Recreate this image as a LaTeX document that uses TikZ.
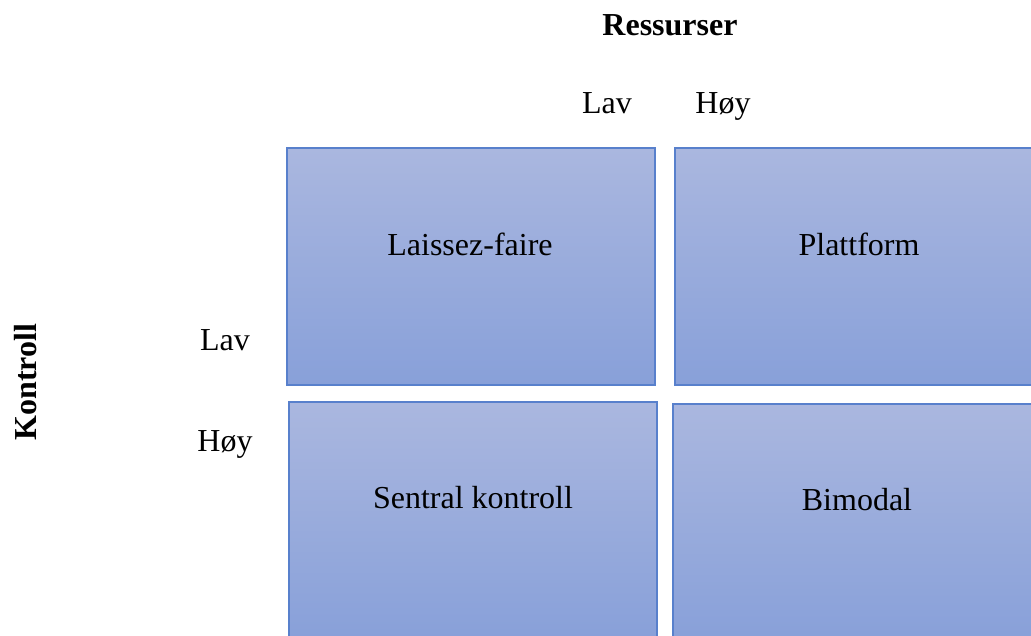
\documentclass[tikz,border=0pt]{standalone}
\usepackage{fontspec}
\setmainfont{Liberation Serif}
\definecolor{boxtop}{RGB}{170,183,223}
\definecolor{boxbot}{RGB}{136,160,217}
\definecolor{boxline}{RGB}{88,128,204}
\tikzset{
  quad/.style={draw=boxline, line width=1.4pt, top color=boxtop, bottom color=boxbot, shading angle=0},
  lbl/.style={font=\fontsize{32}{38}\selectfont, anchor=base, inner sep=0pt},
  head/.style={font=\fontsize{32}{38}\selectfont\bfseries, inner sep=0pt}
}
\begin{document}
\begin{tikzpicture}[x=1pt,y=-1pt]
\useasboundingbox (0,0) rectangle (1031,636);
\clip (0,0) rectangle (1031,636);
\path[quad] (287,148) rectangle (655,385) coordinate (b1);
\path[quad] (675,148) rectangle (1043,385) coordinate (b2);
\path[quad] (289,402) rectangle (657,639) coordinate (b3);
\path[quad] (673,404) rectangle (1041,641) coordinate (b4);
\node[lbl] (t1) at (470,256) {Laissez-faire};
\node[lbl] (t2) at (859,256) {Plattform};
\node[lbl] (t3) at (473,508) {Sentral kontroll};
\node[lbl] (t4) at (857,510) {Bimodal};
\node[head, anchor=base] (res) at (670,36) {Ressurser};
\node[lbl] (rlav) at (607,114) {Lav};
\node[lbl] (rhoy) at (723,114) {Høy};
\node[head, rotate=90] (kon) at (26,382) {Kontroll};
\node[lbl] (klav) at (225,351) {Lav};
\node[lbl] (khoy) at (225,451) {Høy};
\end{tikzpicture}
\end{document}
